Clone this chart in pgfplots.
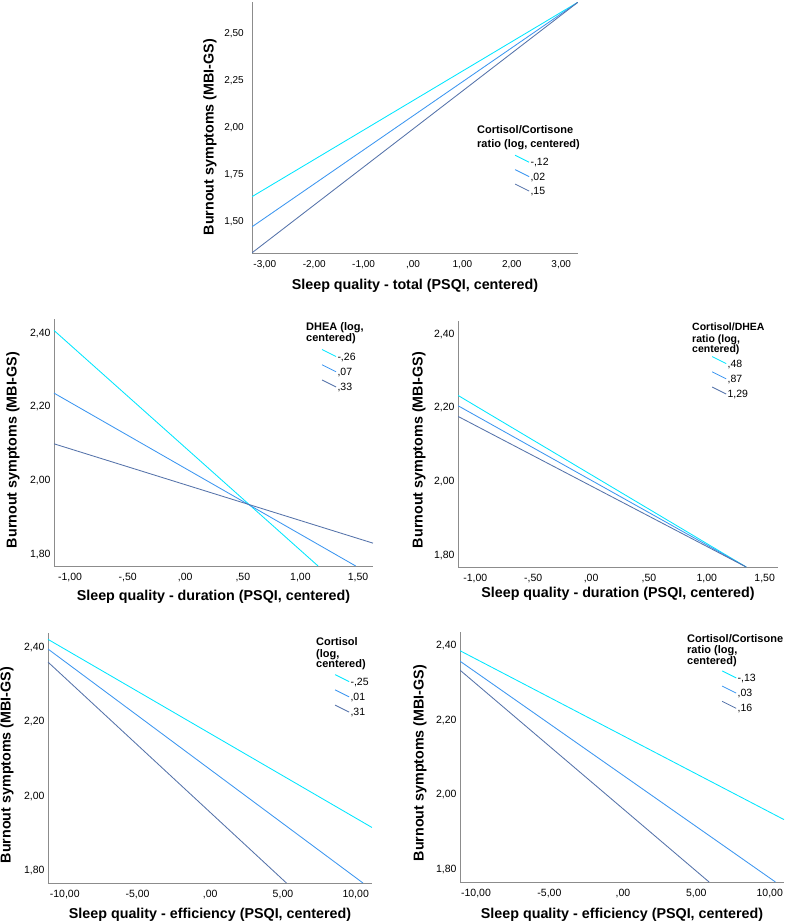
\documentclass[border=0pt]{standalone}
\usepackage{fontspec}
\setmainfont{Liberation Sans}
\usepackage{pgfplots}
\pgfplotsset{compat=1.18}
\definecolor{lc}{RGB}{0,230,255}
\definecolor{lm}{RGB}{60,150,240}
\definecolor{ld}{RGB}{85,115,170}
\definecolor{axg}{RGB}{140,140,140}

\pgfplotsset{
 spss/.style={
  scale only axis,
  axis x line*=bottom, axis y line*=left,
  axis line style={draw=axg, line width=0.8pt, -},
  major tick length=0pt,
  tick label style={font=\fontsize{10.5}{12}\selectfont},
  xticklabel style={yshift=-4pt},
  label style={font=\bfseries\fontsize{14.3}{17}\selectfont},
  legend image code/.code={\draw[##1] (0pt,8pt) -- (14pt,1pt);},
  legend style={draw=none, fill=none, font=\fontsize{10.5}{12}\selectfont, anchor=north west, row sep=0.8pt,
    nodes={inner sep=1pt, text height=7.5pt, text depth=2.5pt},
    /tikz/every even column/.style={column sep=0pt}},
  legend cell align=left,
  every axis plot/.append style={line width=0.85pt},
 },
}
\tikzset{ttl/.style={font=\bfseries\fontsize{11}{13}\selectfont, inner sep=0pt, anchor=base west}}

\begin{document}
\begin{tikzpicture}
\path[use as bounding box] (0pt,0pt) rectangle (789pt,-924pt);

% Panel 1
\begin{axis}[spss, at={(252pt,-253pt)}, anchor=south west, width=326pt, height=251pt,
 xmin=-3.26, xmax=3.34, ymin=1.334, ymax=2.666,
 xtick={-3,-2,-1,0,1,2,3}, xticklabels={{-3,00},{-2,00},{-1,00},{,00},{1,00},{2,00},{3,00}},
 ytick={1.5,1.75,2,2.25,2.5}, yticklabels={{1,50},{1,75},{2,00},{2,25},{2,50}},
 tick label style={font=\fontsize{10}{12}\selectfont},
 yticklabel style={xshift=-4.7pt},
 xlabel={Sleep quality - total (PSQI, centered)},
 ylabel={Burnout symptoms (MBI-GS)},
 xlabel style={at={([yshift=-33pt]axis description cs:0.5,0)}, anchor=center},
 ylabel style={at={([xshift=-42pt]axis description cs:0,0.462)}, anchor=center},
 legend style={at={(0.796,0.40)}, row sep=0pt},
]
\addplot[lc] coordinates {(-3.26,1.633) (3.34,2.665)};
\addlegendentry{-,12}
\addplot[lm] coordinates {(-3.26,1.473) (3.34,2.665)};
\addlegendentry{,02}
\addplot[ld] coordinates {(-3.26,1.335) (3.34,2.665)};
\addlegendentry{,15}
\end{axis}

% Panel 2
\begin{axis}[spss, at={(54pt,-566pt)}, anchor=south west, width=319pt, height=247pt,
 xmin=-1.14, xmax=1.63, ymin=1.768, ymax=2.438,
 xtick={-1,-0.5,0,0.5,1,1.5}, xticklabels={{-1,00},{-,50},{,00},{,50},{1,00},{1,50}},
 ytick={1.8,2,2.2,2.4}, yticklabels={{1,80},{2,00},{2,20},{2,40}},
 xlabel={Sleep quality - duration (PSQI, centered)},
 ylabel={Burnout symptoms (MBI-GS)},
 xlabel style={at={([yshift=-31pt]axis description cs:0.5,0)}, anchor=center},
 ylabel style={at={([xshift=-41pt]axis description cs:0,0.47)}, anchor=center},
 legend style={at={(0.829,0.887)}},
]
\addplot[lc] coordinates {(-1.14,2.407) (1.153,1.768)};
\addlegendentry{-,26}
\addplot[lm] coordinates {(-1.14,2.237) (1.48,1.768)};
\addlegendentry{,07}
\addplot[ld] coordinates {(-1.14,2.0995) (1.63,1.83)};
\addlegendentry{,33}
\end{axis}

% Panel 3
\begin{axis}[spss, at={(458pt,-567pt)}, anchor=south west, width=320pt, height=246pt,
 xmin=-1.15, xmax=1.615, ymin=1.768, ymax=2.436,
 xtick={-1,-0.5,0,0.5,1,1.5}, xticklabels={{-1,00},{-,50},{,00},{,50},{1,00},{1,50}},
 ytick={1.8,2,2.2,2.4}, yticklabels={{1,80},{2,00},{2,20},{2,40}},
 xlabel={Sleep quality - duration (PSQI, centered)},
 ylabel={Burnout symptoms (MBI-GS)},
 xlabel style={at={([yshift=-27pt]axis description cs:0.5,0)}, anchor=center},
 ylabel style={at={([xshift=-39pt]axis description cs:0,0.476)}, anchor=center},
 legend style={at={(0.783,0.866)}},
]
\addplot[lc] coordinates {(-1.15,2.234) (1.34,1.768)};
\addlegendentry{,48}
\addplot[lm] coordinates {(-1.15,2.206) (1.34,1.768)};
\addlegendentry{,87}
\addplot[ld] coordinates {(-1.15,2.177) (1.34,1.768)};
\addlegendentry{1,29}
\end{axis}

% Panel 4
\begin{axis}[spss, at={(48pt,-883pt)}, anchor=south west, width=324pt, height=250pt,
 xmin=-11.15, xmax=11.12, ymin=1.767, ymax=2.438,
 xtick={-10,-5,0,5,10}, xticklabels={{-10,00},{-5,00},{,00},{5,00},{10,00}},
 ytick={1.8,2,2.2,2.4}, yticklabels={{1,80},{2,00},{2,20},{2,40}},
 xlabel={Sleep quality - efficiency (PSQI, centered)},
 ylabel={Burnout symptoms (MBI-GS)},
 xlabel style={at={([yshift=-32pt]axis description cs:0.5,0)}, anchor=center},
 ylabel style={at={([xshift=-41pt]axis description cs:0,0.472)}, anchor=center},
 legend style={at={(0.875,0.844)}},
]
\addplot[lc] coordinates {(-11.15,2.421) (11.12,1.916)};
\addlegendentry{-,25}
\addplot[lm] coordinates {(-11.15,2.395) (10.5,1.767)};
\addlegendentry{,01}
\addplot[ld] coordinates {(-11.15,2.36) (5.24,1.767)};
\addlegendentry{,31}
\end{axis}

% Panel 5
\begin{axis}[spss, at={(460pt,-882pt)}, anchor=south west, width=324pt, height=250pt,
 xmin=-11.09, xmax=10.97, ymin=1.767, ymax=2.436,
 xtick={-10,-5,0,5,10}, xticklabels={{-10,00},{-5,00},{,00},{5,00},{10,00}},
 ytick={1.8,2,2.2,2.4}, yticklabels={{1,80},{2,00},{2,20},{2,40}},
 xlabel={Sleep quality - efficiency (PSQI, centered)},
 ylabel={Burnout symptoms (MBI-GS)},
 xlabel style={at={([yshift=-33pt]axis description cs:0.5,0)}, anchor=center},
 ylabel style={at={([xshift=-40pt]axis description cs:0,0.476)}, anchor=center},
 legend style={at={(0.798,0.855)}},
]
\addplot[lc] coordinates {(-11.09,2.386) (10.97,1.934)};
\addlegendentry{-,13}
\addplot[lm] coordinates {(-11.09,2.358) (10.39,1.767)};
\addlegendentry{,03}
\addplot[ld] coordinates {(-11.09,2.334) (5.87,1.767)};
\addlegendentry{,16}
\end{axis}

% Legend titles
\node[ttl] at (477pt,-133pt) {Cortisol/Cortisone};
\node[ttl] at (477pt,-147pt) {ratio (log, centered)};

\node[ttl] at (306pt,-330.6pt) {DHEA (log,};
\node[ttl] at (306pt,-341.3pt) {centered)};

\node[ttl, font=\bfseries\fontsize{10.5}{12}\selectfont] at (692pt,-330.6pt) {Cortisol/DHEA};
\node[ttl, font=\bfseries\fontsize{10.5}{12}\selectfont] at (692pt,-342.2pt) {ratio (log,};
\node[ttl, font=\bfseries\fontsize{10.5}{12}\selectfont] at (692pt,-352.2pt) {centered)};

\node[ttl] at (316pt,-645pt) {Cortisol};
\node[ttl] at (316pt,-657pt) {(log,};
\node[ttl] at (316pt,-667pt) {centered)};

\node[ttl] at (687pt,-642.4pt) {Cortisol/Cortisone};
\node[ttl] at (687pt,-653.2pt) {ratio (log,};
\node[ttl] at (687pt,-664.6pt) {centered)};
\end{tikzpicture}
\end{document}
